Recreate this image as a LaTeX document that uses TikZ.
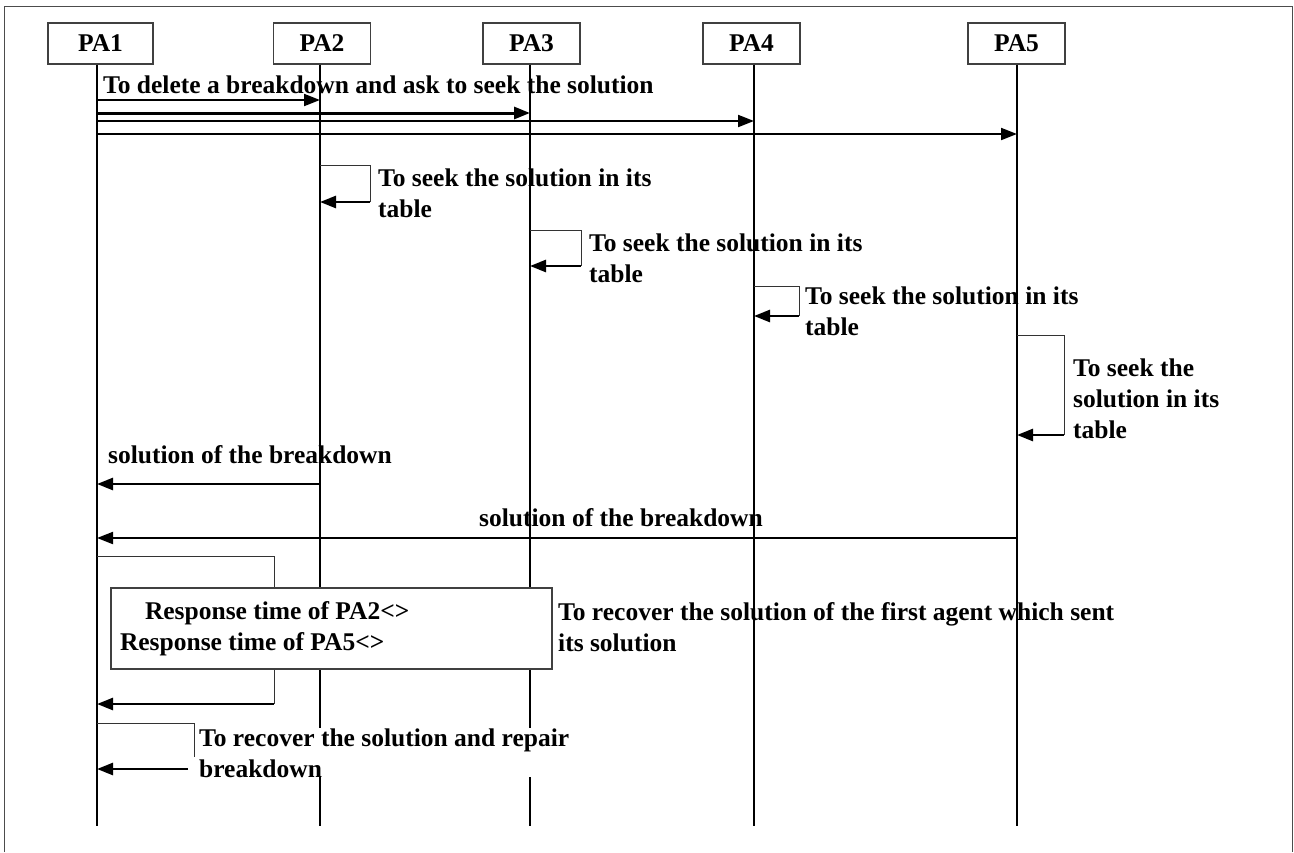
\documentclass[tikz,border=0pt]{standalone}
\usepackage{fontspec}
\setmainfont{Liberation Serif}
\usetikzlibrary{arrows.meta}
\newcommand{\seqfont}{\fontsize{25.5}{31}\selectfont\bfseries}
\tikzset{
  agent/.style={rectangle, draw=black!75, line width=1.2pt, minimum height=41pt,
    minimum width=97pt, inner sep=0pt, font=\seqfont},
  life/.style={line width=1.5pt},
  msg/.style={-{Triangle[length=16pt,width=12pt]}, line width=2pt},
  back/.style={-{Triangle[length=16pt,width=12pt]}, line width=2.6pt},
  loopline/.style={line width=1pt, draw=black!80},
  lbl/.style={anchor=base west, align=left, inner sep=0pt, font=\seqfont},
  rtbox/.style={rectangle, draw=black!75, line width=1.2pt, fill=white, minimum width=441pt,
    minimum height=81pt, text width=423pt, inner xsep=9pt, inner ysep=0pt, align=flush left, font=\seqfont},
}

\begin{document}
\begin{tikzpicture}[x=1pt,y=-1pt]
  \useasboundingbox (0,0) rectangle (1294,852);
  % frame
  \draw[black!70, line width=1.2pt] (4.5,852) -- (4.5,6.5) -- (1292.5,6.5) -- (1292.5,852);

  % agents and lifelines
  \node[agent, minimum width=105pt] (pa1) at (100.5,43.5) {PA1};
  \node[agent] (pa2) at (322,43.5) {PA2};
  \node[agent] (pa3) at (531.5,43.5) {PA3};
  \node[agent] (pa4) at (751.5,43.5) {PA4};
  \node[agent] (pa5) at (1016.5,43.5) {PA5};
  \coordinate (e1) at (97,826);
  \coordinate (e2) at (320,826);
  \coordinate (e3) at (530,826);
  \coordinate (e4) at (754,826);
  \coordinate (e5) at (1017,826);
  \foreach \i in {1,...,5}
    \draw[life] (e\i |- pa\i.south) -- (e\i);

  % request to all agents
  \coordinate (m1) at (0,100);
  \coordinate (m2) at (0,113);
  \coordinate (m3) at (0,121);
  \coordinate (m4) at (0,134);
  \node[lbl] (del) at (103,93) {To delete a breakdown and ask to seek the solution};
  \draw[msg] (e1 |- m1) -- (e2 |- m1);
  \draw[msg, line width=3pt] (e1 |- m2) -- (e3 |- m2);
  \draw[msg] (e1 |- m3) -- (e4 |- m3);
  \draw[msg] (e1 |- m4) -- (e5 |- m4);

  % each agent seeks in its table
  \coordinate (s2a) at (370,165);
  \coordinate (s2b) at (370,202);
  \draw[loopline] (e2 |- s2a) -- (s2a) -- (s2b);
  \draw[back] (s2b) -- (e2 |- s2b);
  \node[lbl] (seek2) at (378,217) {To seek the solution in its\\table};

  \coordinate (s3a) at (581,230);
  \coordinate (s3b) at (581,266);
  \draw[loopline] (e3 |- s3a) -- (s3a) -- (s3b);
  \draw[back] (s3b) -- (e3 |- s3b);
  \node[lbl] (seek3) at (589,282) {To seek the solution in its\\table};

  \coordinate (s4a) at (799,286);
  \coordinate (s4b) at (799,316);
  \draw[loopline] (e4 |- s4a) -- (s4a) -- (s4b);
  \draw[back] (s4b) -- (e4 |- s4b);
  \node[lbl] (seek4) at (805,335) {To seek the solution in its\\table};

  \coordinate (s5a) at (1064,335);
  \coordinate (s5b) at (1064,435);
  \draw[loopline] (e5 |- s5a) -- (s5a) -- (s5b);
  \draw[back] (s5b) -- (e5 |- s5b);
  \node[lbl] (seek5) at (1073,438) {To seek the\\solution in its\\table};

  % answers
  \coordinate (r1) at (0,484);
  \coordinate (r2) at (0,538);
  \draw[back] (e2 |- r1) -- (e1 |- r1);
  \node[lbl] (sol2) at (108,463) {solution of the breakdown};
  \draw[msg] (e5 |- r2) -- (e1 |- r2);
  \node[lbl] (sol5) at (479,526) {solution of the breakdown};

  % first answer wins
  \coordinate (c1a) at (274,556);
  \coordinate (c1b) at (274,704);
  \draw[loopline] (e1 |- c1a) -- (c1a) -- (c1b);
  \draw[back] (c1b) -- (e1 |- c1b);
  \node[rtbox] (rt) at (331.5,628.5) {\hspace*{25pt}Response time of PA2<>\\Response time of PA5<>};
  \node[lbl] (first) at (558,651) {To recover the solution of the first agent which sent\\its solution};

  % repair
  \coordinate (p1a) at (194,723);
  \coordinate (p1b) at (194,757);
  \coordinate (p1c) at (188,769);
  \draw[loopline] (e1 |- p1a) -- (p1a) -- (p1b);
  \draw[back] (p1c) -- (e1 |- p1c);
  \node[lbl, fill=white] (repair) at (199,777) {To recover the solution and repair\\breakdown};
\end{tikzpicture}
\end{document}
